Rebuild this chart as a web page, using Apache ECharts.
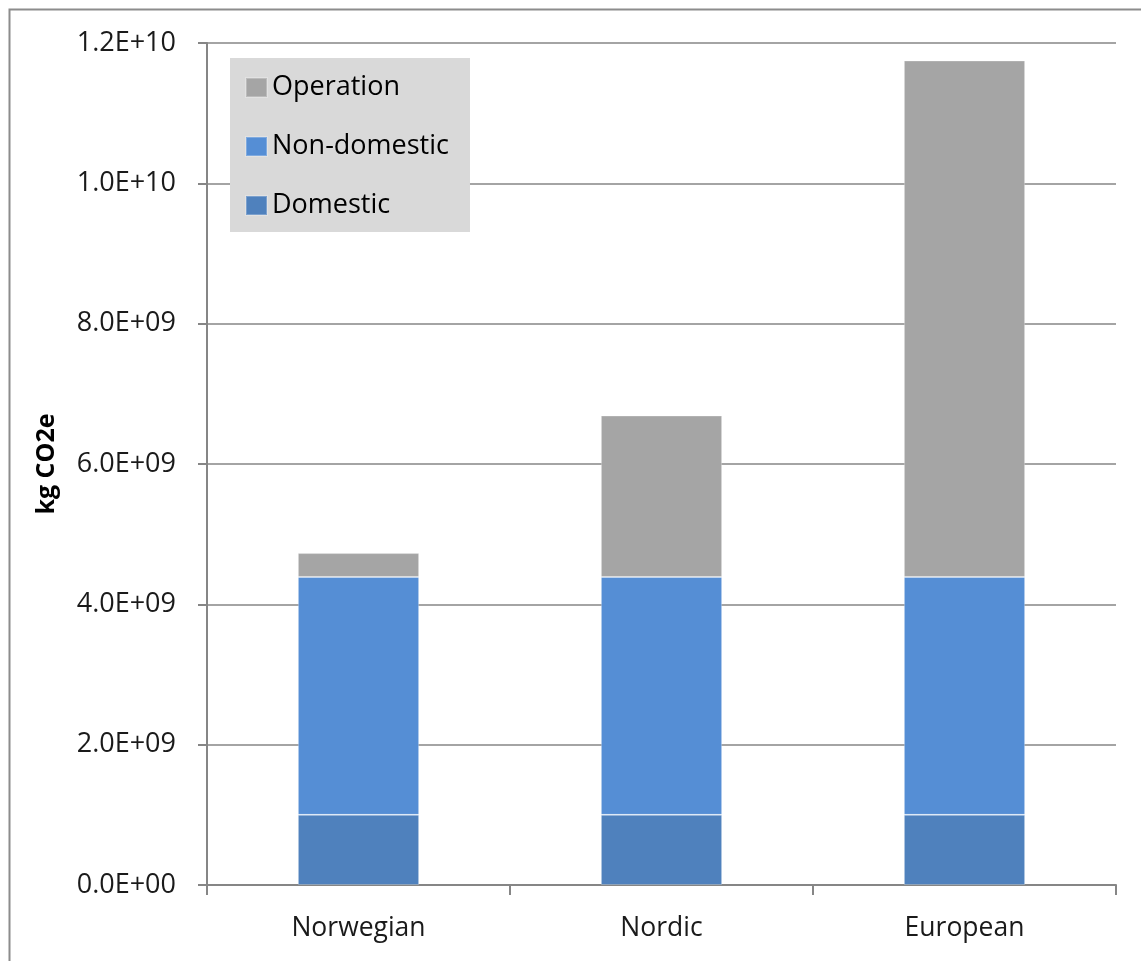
<!DOCTYPE html>
<html>
<head>
<meta charset="utf-8">
<script src="https://cdn.jsdelivr.net/npm/echarts@6/dist/echarts.min.js"></script>
<style>
	html, body { margin: 0; padding: 0; background: #fff; }
	#chart { width: 1141px; height: 961px; }
</style>
</head>
<body>
<div id="chart"></div>
<script>
	var categories = ["Norwegian", "Nordic", "European"];
	var domestic = [1.0e9, 1.0e9, 1.0e9];
	var nonDomestic = [3.39e9, 3.39e9, 3.39e9];
	var operation = [0.34e9, 2.3e9, 7.36e9];
	var yTicks = [0, 2e9, 4e9, 6e9, 8e9, 10e9, 12e9];

	var font = "'Open Sans', 'Noto Sans', sans-serif";
	var axisGray = "#868686";

	function fmt(v) {
		// excel style labels, 1.2E+10
		if (v === 0) return "0.0E+00";
		var e = Math.floor(Math.log10(v));
		var m = v / Math.pow(10, e);
		var es = e < 10 ? "0" + e : "" + e;
		return m.toFixed(1) + "E+" + es;
	}

	var chart = echarts.init(document.getElementById("chart"));
	chart.setOption({
		animation: false,
		backgroundColor: "#fff",
		graphic: [
			{
				type: "rect",
				shape: { x: 9.5, y: 9.5, width: 1200, height: 1000 },
				style: { fill: "none", stroke: "#8c8c8c", lineWidth: 2 },
				silent: true
			}
		],
		grid: {
			left: 207,
			right: 25,
			top: 43,
			bottom: 76
		},
		legend: {
			orient: "vertical",
			left: 230,
			top: 58,
			data: ["Operation", "Non-domestic", "Domestic"],
			backgroundColor: "#d9d9d9",
			borderRadius: 0,
			padding: [16, 21, 13, 15],
			itemWidth: 21,
			itemHeight: 19,
			itemGap: 32,
			icon: "rect",
			textStyle: { fontFamily: font, fontSize: 27, lineHeight: 27, color: "#000" }
		},
		xAxis: {
			type: "category",
			data: categories,
			axisLine: { lineStyle: { color: axisGray, width: 2 } },
			axisTick: { show: true, length: 10, lineStyle: { color: axisGray, width: 2 } },
			axisLabel: { fontFamily: font, fontSize: 26.5, color: "#1a1a1a", margin: 30 },
			splitLine: { show: false }
		},
		yAxis: {
			type: "value",
			min: 0,
			max: 12e9,
			interval: 2e9,
			name: "kg CO2e",
			nameLocation: "middle",
			nameGap: 148,
			nameTextStyle: { fontFamily: font, fontSize: 25, fontWeight: "bold", color: "#000" },
			axisLine: { show: true, lineStyle: { color: axisGray, width: 2 } },
			axisTick: { show: true, length: 9, lineStyle: { color: axisGray, width: 2 } },
			axisLabel: {
				fontFamily: font, fontSize: 27, color: "#1a1a1a", margin: 31,
				formatter: function (v) { return yTicks.indexOf(v) >= 0 ? fmt(v) : ""; }
			},
			splitLine: { show: true, lineStyle: { color: axisGray, width: 1.5 } }
		},
		series: [
			{
				name: "Domestic",
				type: "bar",
				stack: "total",
				barWidth: "40%",
				data: domestic,
				itemStyle: { color: "#4f81bd", borderColor: "rgba(255,255,255,0.25)", borderWidth: 1 }
			},
			{
				name: "Non-domestic",
				type: "bar",
				stack: "total",
				data: nonDomestic,
				itemStyle: { color: "#558ed5", borderColor: "rgba(255,255,255,0.25)", borderWidth: 1 }
			},
			{
				name: "Operation",
				type: "bar",
				stack: "total",
				data: operation,
				itemStyle: { color: "#a5a5a5", borderColor: "rgba(255,255,255,0.25)", borderWidth: 1 }
			}
		]
	});
</script>
</body>
</html>
